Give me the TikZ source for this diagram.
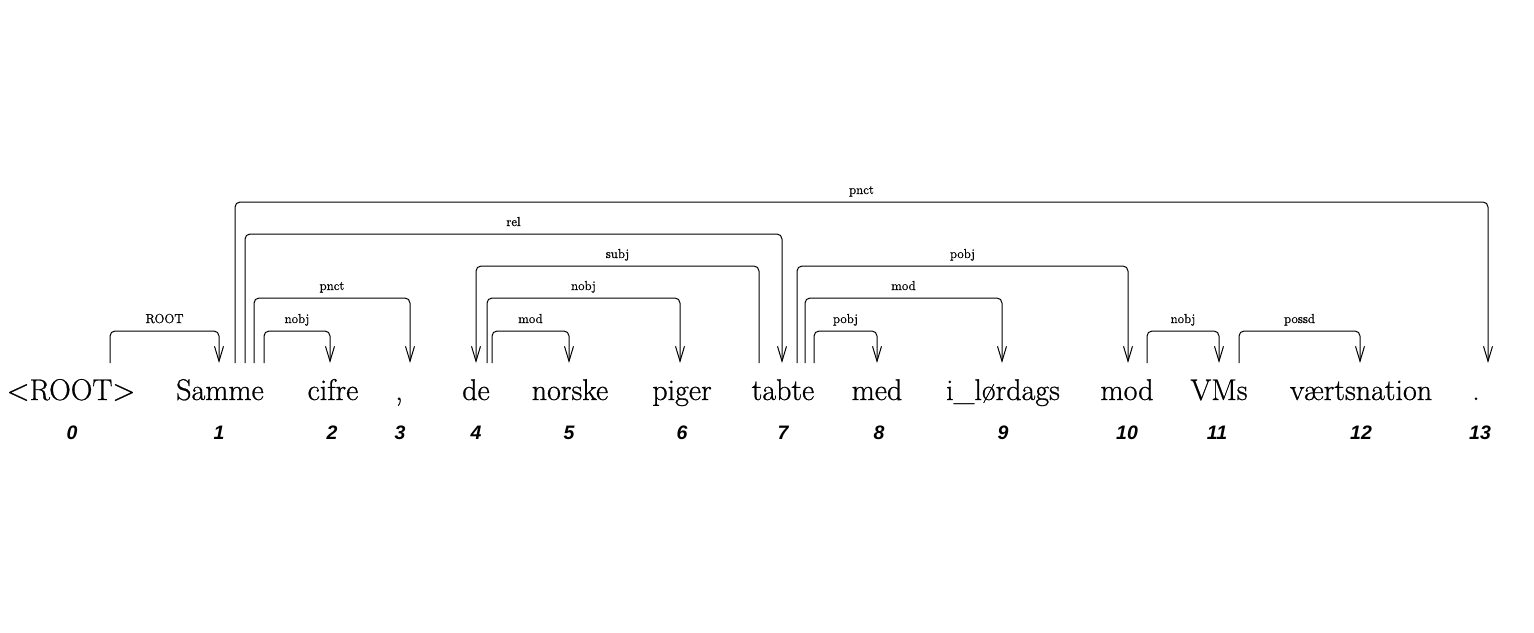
\documentclass[tikz,border=0pt]{standalone}
\usepackage{fontspec}
\newfontfamily\idxfont{Liberation Sans}
\newfontfamily\wordfont{Latin Modern Roman}[FakeBold=0.7]
\newfontfamily\labelfont{Latin Modern Roman}[FakeBold=0.9]
\usetikzlibrary{arrows.meta}
\tikzset{
  word/.style={anchor=base, inner sep=0pt, font=\wordfont\fontsize{30}{36}\selectfont},
  idx/.style={anchor=base, inner sep=0pt, font=\idxfont\bfseries\itshape\fontsize{19.5}{22}\selectfont},
  deparc/.style={line width=1pt, rounded corners=5pt, -{Straight Barb[length=15pt, width=9pt, line width=1pt]}},
  deplabel/.style={anchor=base, inner sep=0pt, yshift=8pt, font=\labelfont\fontsize{13}{15}\selectfont},
}
% one dependency arc: name, foot x, arrow x, top y, label
\newcommand{\deparcdraw}[5]{%
  \coordinate (#1s) at (#2,363);
  \coordinate (#1t) at (#3,363);
  \draw[deparc] (#1s) -- (#1s |- 0,#4) -- node[deplabel]{#5} (#1t |- 0,#4) -- (#1t);
}
\begin{document}
\begin{tikzpicture}[x=1pt, y=-1pt]
\useasboundingbox (0,0) rectangle (1534,632);
% words
\node[word] (w0) at (71,400) {<ROOT>};
\node[word] (w1) at (220,400) {Samme};
\node[word] (w2) at (333,400) {cifre};
\node[word] (w3) at (399,400) {,};
\node[word] (w4) at (476,400) {de};
\node[word] (w5) at (570,400) {norske};
\node[word] (w6) at (682,400) {piger};
\node[word] (w7) at (783,400) {tabte};
\node[word] (w8) at (877,400) {med};
\node[word] (w9) at (1003,400) {i\_lørdags};
\node[word] (w10) at (1127,400) {mod};
\node[word] (w11) at (1219,400) {VMs};
\node[word] (w12) at (1361,400) {værtsnation};
\node[word] (w13) at (1476,400) {.};
% indices
\node[idx] (i0) at (72,439) {0};
\node[idx] (i1) at (219,439) {1};
\node[idx] (i2) at (332,439) {2};
\node[idx] (i3) at (400,439) {3};
\node[idx] (i4) at (476,439) {4};
\node[idx] (i5) at (569,439) {5};
\node[idx] (i6) at (682,439) {6};
\node[idx] (i7) at (783,439) {7};
\node[idx] (i8) at (879,439) {8};
\node[idx] (i9) at (1003,439) {9};
\node[idx] (i10) at (1127,439) {10};
\node[idx] (i11) at (1217,439) {11};
\node[idx] (i12) at (1361,439) {12};
\node[idx] (i13) at (1480,439) {13};
% arcs
\deparcdraw{a1}{110}{219}{331}{ROOT}
\deparcdraw{a2}{235}{1488}{202}{pnct}
\deparcdraw{a3}{245}{782}{234}{rel}
\deparcdraw{a4}{254}{410}{298}{pnct}
\deparcdraw{a5}{264}{330}{331}{nobj}
\deparcdraw{a6}{759}{476}{266}{subj}
\deparcdraw{a7}{487}{680}{298}{nobj}
\deparcdraw{a8}{492}{569}{331}{mod}
\deparcdraw{a9}{797}{1128}{266}{pobj}
\deparcdraw{a10}{805}{1002}{298}{mod}
\deparcdraw{a11}{814}{877}{331}{pobj}
\deparcdraw{a12}{1147}{1219}{331}{nobj}
\deparcdraw{a13}{1239}{1360}{331}{possd}
\end{tikzpicture}
\end{document}
